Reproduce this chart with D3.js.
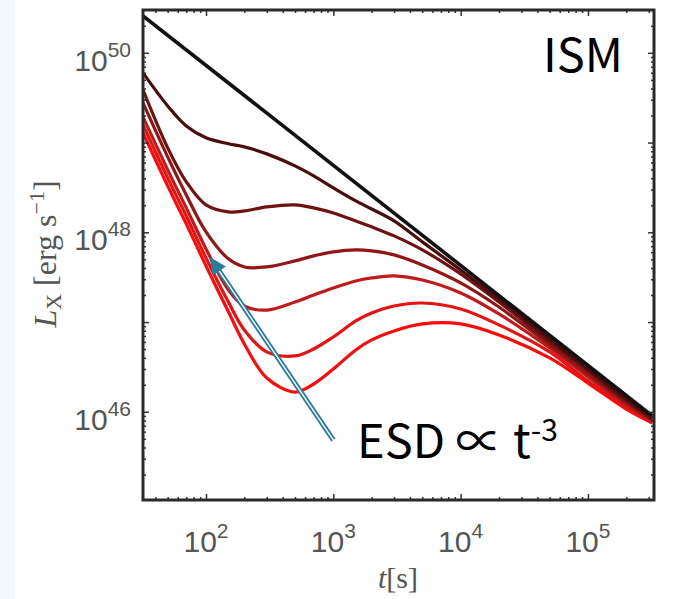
<!DOCTYPE html>
<html>
<head>
<meta charset="utf-8">
<script src="https://cdn.jsdelivr.net/npm/d3@7"></script>
<style>
  body { margin: 0; background: #fff; }
  svg { display: block; }
</style>
</head>
<body>
<script>
// time grid [s] shared by all curves
var times = [32, 50, 70, 100, 150, 200, 300, 500, 700, 1000, 1500, 2000, 3000, 5000, 1e4, 2e4, 5e4, 1e5, 2e5, 3.2e5];

// L_X [erg/s], darkest -> brightest
var lum1 = [5.98e49, 2.56e49, 1.53e49, 1.13e49, 9.7e48, 8.96e48, 7.48e48, 5.50e48, 4.26e48, 3.13e48, 2.24e48, 1.82e48, 1.34e48, 7.82e47, 3.81e47, 1.81e47, 6.49e46, 3.00e46, 1.39e46, 8.53e45];
var lum2 = [3.87e49, 8.73e48, 3.65e48, 2.02e48, 1.69e48, 1.73e48, 1.92e48, 2.02e48, 1.87e48, 1.64e48, 1.34e48, 1.15e48, 9.12e47, 6.37e47, 3.44e47, 1.67e47, 6.00e46, 2.85e46, 1.32e46, 8.32e45];
var lum3 = [2.77e49, 6.93e48, 2.61e48, 1.01e48, 5.06e47, 4.11e47, 4.11e47, 4.80e47, 5.46e47, 6.05e47, 6.37e47, 6.21e47, 5.60e47, 4.33e47, 2.73e47, 1.47e47, 5.56e46, 2.64e46, 1.25e46, 8.11e45];
var lum4 = [1.93e49, 4.97e48, 1.87e48, 6.53e47, 2.28e47, 1.51e47, 1.36e47, 1.67e47, 2.00e47, 2.40e47, 2.87e47, 3.10e47, 3.27e47, 2.94e47, 2.11e47, 1.23e47, 5.14e46, 2.44e46, 1.19e46, 7.89e45];
var lum5 = [1.57e49, 4.04e48, 1.52e48, 5.19e47, 1.67e47, 8.17e46, 4.65e46, 4.19e46, 5.01e46, 6.82e46, 1.03e47, 1.26e47, 1.51e47, 1.63e47, 1.40e47, 9.29e46, 4.65e46, 2.20e46, 1.13e46, 7.69e45];
var lum6 = [1.28e49, 3.29e48, 1.24e48, 4.22e47, 1.30e47, 5.70e46, 2.38e46, 1.66e46, 2.04e46, 3.00e46, 4.89e46, 6.32e46, 7.96e46, 9.53e46, 9.53e46, 7.18e46, 3.98e46, 2.09e46, 1.07e46, 7.50e45];

// pure power law (no ESD)
var blackT = [32, 3.2e5];
var blackL = [2.58e50, 8.98e45];

var curveColors = ["#4a0c0c", "#6e1212", "#921616", "#c01a1a", "#e81212", "#ff0a0a"];

var xTickVals = [1e2, 1e3, 1e4, 1e5];
var xTickExp = ["2", "3", "4", "5"];
var yTickVals = [1e46, 1e48, 1e50];
var yTickExp = ["46", "48", "50"];

// ESD arrow annotation: [t, L] of tail and tip
var arrowTail = [1000, 4.85e45];
var arrowTip = [107, 5.32e47];

var W = 683, H = 599;
var pl = 143, pr = 654, pt = 10, pb = 500;

var svg = d3.select("body").append("svg")
  .attr("width", W)
  .attr("height", H);

svg.append("rect").attr("x", 0).attr("y", 0).attr("width", 15).attr("height", H).attr("fill", "#f3f8fc");

var x = d3.scaleLog().domain([32, 3.3e5]).range([pl, pr]);
var y = d3.scaleLog().domain([1.04e45, 3.0e50]).range([pb, pt]);

var g = svg.append("g");

// curves
var line = d3.line()
  .x(function(d) { return x(d[0]); })
  .y(function(d) { return y(d[1]); })
  .curve(d3.curveCatmullRom.alpha(0.5));

var series = [lum1, lum2, lum3, lum4, lum5, lum6];
svg.append("clipPath").attr("id", "clip")
  .append("rect").attr("x", pl).attr("y", pt).attr("width", pr - pl).attr("height", pb - pt);

var plot = g.append("g").attr("clip-path", "url(#clip)");

plot.selectAll("path.esd")
  .data(series.slice().reverse())
  .enter().append("path")
  .attr("class", "esd")
  .attr("fill", "none")
  .attr("stroke", function(d, i) { return curveColors[series.length - 1 - i]; })
  .attr("stroke-width", 3.2)
  .attr("d", function(d) { return line(times.map(function(t, i) { return [t, d[i]]; })); });

plot.append("path")
  .attr("fill", "none")
  .attr("stroke", "#111")
  .attr("stroke-width", 3.6)
  .attr("d", line.curve(d3.curveLinear)(blackT.map(function(t, i) { return [t, blackL[i]]; })));

// ticks
var minorX = [], minorY = [];
for (var e = 1; e <= 5; e++) {
  for (var k = 2; k <= 9; k++) {
    var v = k * Math.pow(10, e);
    if (v > 32 && v < 3.3e5) minorX.push(v);
  }
}
for (var e2 = 45; e2 <= 50; e2++) {
  for (var k2 = 2; k2 <= 9; k2++) {
    var v2 = k2 * Math.pow(10, e2);
    if (v2 > 1.04e45 && v2 < 3.0e50) minorY.push(v2);
  }
}
var majorY = [1e46, 1e47, 1e48, 1e49, 1e50];

function tickAxis(axisFn, scale, vals, size, tx, ty) {
  var a = g.append("g")
    .attr("transform", "translate(" + tx + "," + ty + ")")
    .call(axisFn(scale).tickValues(vals).tickSize(size).tickFormat(""));
  a.select(".domain").remove();
  a.selectAll("line").attr("stroke", "#333").attr("stroke-width", 1.5);
}
tickAxis(d3.axisBottom, x, xTickVals, -6, 0, pb);
tickAxis(d3.axisBottom, x, minorX, -3, 0, pb);
tickAxis(d3.axisTop, x, xTickVals, -6, 0, pt);
tickAxis(d3.axisTop, x, minorX, -3, 0, pt);
tickAxis(d3.axisLeft, y, majorY, -6, pl, 0);
tickAxis(d3.axisLeft, y, minorY, -3, pl, 0);
tickAxis(d3.axisRight, y, majorY, -6, pr, 0);
tickAxis(d3.axisRight, y, minorY, -3, pr, 0);

// frame
g.append("rect")
  .attr("x", pl).attr("y", pt)
  .attr("width", pr - pl).attr("height", pb - pt)
  .attr("fill", "none")
  .attr("stroke", "#2a2a2a")
  .attr("stroke-width", 3);

// tick labels
var labFont = "'Liberation Sans', Arial, sans-serif";
xTickVals.forEach(function(v, i) {
  var t = svg.append("text")
    .attr("x", x(v)).attr("y", 552)
    .attr("text-anchor", "middle")
    .attr("font-family", labFont)
    .attr("fill", "#555");
  t.append("tspan").attr("font-size", 30).text("10");
  t.append("tspan").attr("font-size", 21).attr("dy", -14).text(xTickExp[i]);
});
yTickVals.forEach(function(v, i) {
  var t = svg.append("text")
    .attr("x", 131).attr("y", y(v) + 18)
    .attr("text-anchor", "end")
    .attr("font-family", labFont)
    .attr("fill", "#555");
  t.append("tspan").attr("font-size", 30).text("10");
  t.append("tspan").attr("font-size", 21).attr("dy", -14).text(yTickExp[i]);
});

// axis titles
var xt = svg.append("text")
  .attr("x", 398).attr("y", 588)
  .attr("text-anchor", "middle")
  .attr("font-family", "'Liberation Serif', serif")
  .attr("font-size", 30)
  .attr("fill", "#555");
xt.append("tspan").attr("font-style", "italic").text("t");
xt.append("tspan").text("[s]");

var yt = svg.append("text")
  .attr("transform", "translate(56,254) rotate(-90)")
  .attr("text-anchor", "middle")
  .attr("font-family", "'Liberation Serif', serif")
  .attr("font-size", 32)
  .attr("fill", "#555");
yt.append("tspan").attr("font-style", "italic").text("L");
yt.append("tspan").attr("font-size", 22).attr("dy", 5).text("X");
yt.append("tspan").attr("dy", -5).text(" [erg s");
yt.append("tspan").attr("font-size", 22).attr("dy", -12).text("\u22121");
yt.append("tspan").attr("dy", 12).text("]");

// annotations
var annFont = "'Noto Sans CJK JP', 'Noto Sans', sans-serif";
svg.append("text")
  .attr("x", 623).attr("y", 72)
  .attr("text-anchor", "end")
  .attr("font-family", annFont)
  .attr("font-size", 47)
  .attr("fill", "#000")
  .text("ISM");

var esd = svg.append("text")
  .attr("x", 357).attr("y", 458)
  .attr("font-family", annFont)
  .attr("font-size", 47)
  .attr("fill", "#000");
esd.append("tspan").text("ESD \u221d t");
esd.append("tspan").attr("font-size", 30).attr("dy", -17).text("-3");

// arrow
var ax0 = x(arrowTail[0]), ay0 = y(arrowTail[1]);
var ax1 = x(arrowTip[0]), ay1 = y(arrowTip[1]);
var dx = ax1 - ax0, dy = ay1 - ay0, len = Math.sqrt(dx * dx + dy * dy);
var ux = dx / len, uy = dy / len;
var headLen = 17, headW = 8;
var bx = ax1 - ux * headLen, by = ay1 - uy * headLen;
var arrowColor = "#2a7b9e";
svg.append("line")
  .attr("x1", ax0).attr("y1", ay0).attr("x2", bx + ux * 2).attr("y2", by + uy * 2)
  .attr("stroke", arrowColor).attr("stroke-width", 5);
svg.append("line")
  .attr("x1", ax0 - ux * 1).attr("y1", ay0 - uy * 1).attr("x2", bx + ux * 2).attr("y2", by + uy * 2)
  .attr("stroke", "#fff").attr("stroke-width", 1.4);
svg.append("path")
  .attr("d", "M" + ax1 + "," + ay1 +
    "L" + (bx - uy * headW) + "," + (by + ux * headW) +
    "L" + (bx + uy * headW) + "," + (by - ux * headW) + "Z")
  .attr("fill", arrowColor);
</script>
</body>
</html>
